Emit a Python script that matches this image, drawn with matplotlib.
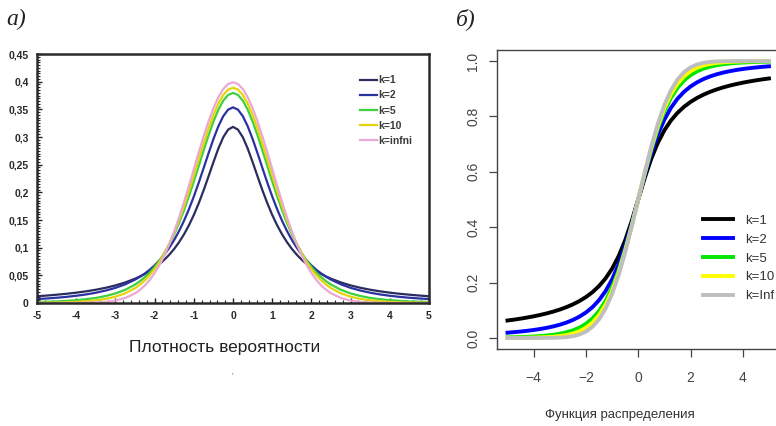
import matplotlib
matplotlib.use("Agg")
import matplotlib.pyplot as plt
from matplotlib.ticker import MultipleLocator, FixedLocator

# sample positions for panel a (denser around the peak)
pdf_x = [-5.0, -4.75, -4.5, -4.25, -4.0, -3.75, -3.5, -3.25, -3.0, -2.75,
         -2.5, -2.375, -2.25, -2.125, -2.0, -1.875, -1.75, -1.625, -1.5, -1.375,
         -1.25, -1.125, -1.0, -0.875, -0.75, -0.625, -0.5, -0.375, -0.25, -0.125,
         0.0,
         0.125, 0.25, 0.375, 0.5, 0.625, 0.75, 0.875, 1.0, 1.125, 1.25,
         1.375, 1.5, 1.625, 1.75, 1.875, 2.0, 2.125, 2.25, 2.375, 2.5,
         2.75, 3.0, 3.25, 3.5, 3.75, 4.0, 4.25, 4.5, 4.75, 5.0]

# panel a: probability density
pdf_k1 = [0.0122, 0.0135, 0.0150, 0.0167, 0.0187, 0.0211, 0.0240, 0.0275, 0.0318, 0.0372,
          0.0439, 0.0479, 0.0525, 0.0577, 0.0637, 0.0705, 0.0784, 0.0874, 0.0979, 0.1101,
          0.1242, 0.1405, 0.1592, 0.1803, 0.2037, 0.2289, 0.2546, 0.2791, 0.2996, 0.3134,
          0.3183,
          0.3134, 0.2996, 0.2791, 0.2546, 0.2289, 0.2037, 0.1803, 0.1592, 0.1405, 0.1242,
          0.1101, 0.0979, 0.0874, 0.0784, 0.0705, 0.0637, 0.0577, 0.0525, 0.0479, 0.0439,
          0.0372, 0.0318, 0.0275, 0.0240, 0.0211, 0.0187, 0.0167, 0.0150, 0.0135, 0.0122]
pdf_k2 = [0.0071, 0.0082, 0.0095, 0.0111, 0.0131, 0.0155, 0.0186, 0.0225, 0.0274, 0.0338,
          0.0422, 0.0474, 0.0533, 0.0601, 0.0680, 0.0772, 0.0878, 0.1000, 0.1141, 0.1303,
          0.1487, 0.1695, 0.1925, 0.2174, 0.2438, 0.2706, 0.2963, 0.3193, 0.3376, 0.3495,
          0.3536,
          0.3495, 0.3376, 0.3193, 0.2963, 0.2706, 0.2438, 0.2174, 0.1925, 0.1695, 0.1487,
          0.1303, 0.1141, 0.1000, 0.0878, 0.0772, 0.0680, 0.0601, 0.0533, 0.0474, 0.0422,
          0.0338, 0.0274, 0.0225, 0.0186, 0.0155, 0.0131, 0.0111, 0.0095, 0.0082, 0.0071]
pdf_k5 = [0.0018, 0.0023, 0.0029, 0.0039, 0.0051, 0.0069, 0.0092, 0.0126, 0.0173, 0.0239,
          0.0333, 0.0394, 0.0466, 0.0551, 0.0651, 0.0768, 0.0905, 0.1064, 0.1245, 0.1450,
          0.1679, 0.1929, 0.2197, 0.2476, 0.2757, 0.3029, 0.3279, 0.3493, 0.3657, 0.3761,
          0.3796,
          0.3761, 0.3657, 0.3493, 0.3279, 0.3029, 0.2757, 0.2476, 0.2197, 0.1929, 0.1679,
          0.1450, 0.1245, 0.1064, 0.0905, 0.0768, 0.0651, 0.0551, 0.0466, 0.0394, 0.0333,
          0.0239, 0.0173, 0.0126, 0.0092, 0.0069, 0.0051, 0.0039, 0.0029, 0.0023, 0.0018]
pdf_k10 = [0.0004, 0.0006, 0.0009, 0.0013, 0.0020, 0.0031, 0.0048, 0.0074, 0.0114, 0.0176,
           0.0269, 0.0332, 0.0409, 0.0501, 0.0612, 0.0742, 0.0895, 0.1072, 0.1274, 0.1501,
           0.1751, 0.2020, 0.2304, 0.2593, 0.2880, 0.3152, 0.3397, 0.3603, 0.3760, 0.3858,
           0.3891,
           0.3858, 0.3760, 0.3603, 0.3397, 0.3152, 0.2880, 0.2593, 0.2304, 0.2020, 0.1751,
           0.1501, 0.1274, 0.1072, 0.0895, 0.0742, 0.0612, 0.0501, 0.0409, 0.0332, 0.0269,
           0.0176, 0.0114, 0.0074, 0.0048, 0.0031, 0.0020, 0.0013, 0.0009, 0.0006, 0.0004]
pdf_inf = [0.0000, 0.0000, 0.0000, 0.0000, 0.0001, 0.0004, 0.0009, 0.0020, 0.0044, 0.0091,
           0.0175, 0.0238, 0.0317, 0.0417, 0.0540, 0.0688, 0.0863, 0.1065, 0.1295, 0.1550,
           0.1826, 0.2119, 0.2420, 0.2721, 0.3011, 0.3282, 0.3521, 0.3719, 0.3867, 0.3958,
           0.3989,
           0.3958, 0.3867, 0.3719, 0.3521, 0.3282, 0.3011, 0.2721, 0.2420, 0.2119, 0.1826,
           0.1550, 0.1295, 0.1065, 0.0863, 0.0688, 0.0540, 0.0417, 0.0317, 0.0238, 0.0175,
           0.0091, 0.0044, 0.0020, 0.0009, 0.0004, 0.0001, 0.0000, 0.0000, 0.0000, 0.0000]
pdf_labels = ["k=1", "k=2", "k=5", "k=10", "k=infni"]
pdf_colors = ["#2b2d5e", "#2c31a0", "#3fcf3f", "#e6d40a", "#e9a9d2"]

# sample positions for panel b
cdf_x = [-5.0, -4.75, -4.5, -4.25, -4.0, -3.75, -3.5, -3.25, -3.0, -2.75,
         -2.5, -2.25, -2.0, -1.75, -1.5, -1.25, -1.0, -0.75, -0.5, -0.25,
         0.0, 0.25, 0.5, 0.75, 1.0, 1.25, 1.5, 1.75, 2.0, 2.25,
         2.5, 2.75, 3.0, 3.25, 3.5, 3.75, 4.0, 4.25, 4.5, 4.75, 5.0]

# panel b: distribution function
cdf_k1 = [0.0628, 0.0660, 0.0696, 0.0736, 0.0780, 0.0830, 0.0886, 0.0950, 0.1024, 0.1110,
          0.1211, 0.1331, 0.1476, 0.1652, 0.1872, 0.2148, 0.2500, 0.2952, 0.3524, 0.4220,
          0.5000, 0.5780, 0.6476, 0.7048, 0.7500, 0.7852, 0.8128, 0.8348, 0.8524, 0.8669,
          0.8789, 0.8890, 0.8976, 0.9050, 0.9114, 0.9170, 0.9220, 0.9264, 0.9304, 0.9340, 0.9372]
cdf_k2 = [0.0189, 0.0208, 0.0230, 0.0256, 0.0286, 0.0322, 0.0364, 0.0415, 0.0477, 0.0553,
          0.0648, 0.0767, 0.0918, 0.1111, 0.1362, 0.1689, 0.2113, 0.2657, 0.3333, 0.4130,
          0.5000, 0.5870, 0.6667, 0.7343, 0.7887, 0.8311, 0.8638, 0.8889, 0.9082, 0.9233,
          0.9352, 0.9447, 0.9523, 0.9585, 0.9636, 0.9678, 0.9714, 0.9744, 0.9770, 0.9792, 0.9811]
cdf_k5 = [0.0021, 0.0025, 0.0032, 0.0041, 0.0052, 0.0066, 0.0086, 0.0113, 0.0150, 0.0202,
          0.0272, 0.0371, 0.0510, 0.0703, 0.0970, 0.1333, 0.1816, 0.2435, 0.3191, 0.4063,
          0.5000, 0.5937, 0.6809, 0.7565, 0.8184, 0.8667, 0.9030, 0.9297, 0.9490, 0.9629,
          0.9728, 0.9798, 0.9850, 0.9887, 0.9914, 0.9934, 0.9948, 0.9959, 0.9968, 0.9975, 0.9979]
cdf_k10 = [0.0003, 0.0004, 0.0006, 0.0008, 0.0013, 0.0019, 0.0029, 0.0044, 0.0067, 0.0102,
           0.0157, 0.0241, 0.0367, 0.0553, 0.0823, 0.1199, 0.1704, 0.2353, 0.3139, 0.4038,
           0.5000, 0.5962, 0.6861, 0.7647, 0.8296, 0.8801, 0.9177, 0.9447, 0.9633, 0.9759,
           0.9843, 0.9898, 0.9933, 0.9956, 0.9971, 0.9981, 0.9987, 0.9992, 0.9994, 0.9996, 0.9997]
cdf_inf = [0.0000, 0.0000, 0.0000, 0.0000, 0.0000, 0.0001, 0.0002, 0.0006, 0.0013, 0.0030,
           0.0062, 0.0122, 0.0228, 0.0401, 0.0668, 0.1056, 0.1587, 0.2266, 0.3085, 0.4013,
           0.5000, 0.5987, 0.6915, 0.7734, 0.8413, 0.8944, 0.9332, 0.9599, 0.9772, 0.9878,
           0.9938, 0.9970, 0.9987, 0.9994, 0.9998, 0.9999, 1.0000, 1.0000, 1.0000, 1.0000, 1.0000]
cdf_labels = ["k=1", "k=2", "k=5", "k=10", "k=Inf"]
cdf_colors = ["#000000", "#0000ff", "#00e600", "#ffff00", "#bebebe"]

pdf_yticks = [0, 0.05, 0.1, 0.15, 0.2, 0.25, 0.3, 0.35, 0.4, 0.45]
pdf_yticklabels = ["0", "0,05", "0,1", "0,15", "0,2", "0,25", "0,3", "0,35", "0,4", "0,45"]
pdf_xticks = [-5, -4, -3, -2, -1, 0, 1, 2, 3, 4, 5]
cdf_xticks = [-4, -2, 0, 2, 4]
cdf_yticks = [0.0, 0.2, 0.4, 0.6, 0.8, 1.0]

pdf_series = [pdf_k1, pdf_k2, pdf_k5, pdf_k10, pdf_inf]
cdf_series = [cdf_k1, cdf_k2, cdf_k5, cdf_k10, cdf_inf]
assert all(len(s) == len(pdf_x) for s in pdf_series)
assert all(len(s) == len(cdf_x) for s in cdf_series)

plt.rcParams["font.family"] = ["Liberation Sans", "DejaVu Sans"]

fig = plt.figure(figsize=(7.76, 4.26), dpi=100)

# ---- panel a ----
ax1 = fig.add_axes([0.0477, 0.2887, 0.5052, 0.5845])
for ys, lab, col in zip(pdf_series, pdf_labels, pdf_colors):
    ax1.plot(pdf_x, ys, color=col, lw=1.6, label=lab)
ax1.set_xlim(-5, 5)
ax1.set_ylim(0, 0.45)
ax1.yaxis.set_major_locator(FixedLocator(pdf_yticks))
ax1.set_yticklabels(pdf_yticklabels)
ax1.xaxis.set_major_locator(FixedLocator(pdf_xticks))
ax1.set_xticklabels([str(v) for v in pdf_xticks])
ax1.yaxis.set_minor_locator(MultipleLocator(0.005))
ax1.xaxis.set_minor_locator(MultipleLocator(0.2))
ax1.tick_params(which="both", direction="in", top=False, right=False, color="#222222")
ax1.tick_params(which="major", length=3.5, width=1.0, labelsize=7.5, pad=6, labelcolor="#2a2a2a")
ax1.tick_params(which="minor", length=2.5, width=0.8)
for lbl in ax1.get_xticklabels() + ax1.get_yticklabels():
    lbl.set_fontweight("bold")
for sp in ax1.spines.values():
    sp.set_linewidth(1.8)
    sp.set_color("#2a2a2a")
ax1.legend(loc="upper left", bbox_to_anchor=(0.824, 0.915), frameon=False,
           prop={"size": 7.5, "weight": "bold"},
           handlelength=1.65, handletextpad=0.1, labelspacing=0.5, borderaxespad=0,
           borderpad=0, labelcolor="#3a3a3a")

# ---- panel b ----
ax2 = fig.add_axes([0.6405, 0.1808, 0.3639, 0.7018])
for ys, lab, col in zip(cdf_series, cdf_labels, cdf_colors):
    ax2.plot(cdf_x, ys, color=col, lw=2.8, label=lab)
ax2.set_xlim(-5.4, 5.4)
ax2.set_ylim(-0.04, 1.04)
ax2.xaxis.set_major_locator(FixedLocator(cdf_xticks))
ax2.set_xticklabels(["\u2212" + str(-v) if v < 0 else str(v) for v in cdf_xticks])
ax2.yaxis.set_major_locator(FixedLocator(cdf_yticks))
ax2.set_yticklabels(["%.1f" % v for v in cdf_yticks], rotation=90, va="center")
ax2.tick_params(direction="out", length=6, width=0.9, color="#444444",
                labelsize=10, labelcolor="#444444")
ax2.tick_params(axis="x", pad=10)
ax2.tick_params(axis="y", pad=6)
for sp in ax2.spines.values():
    sp.set_linewidth(1.0)
    sp.set_color("#444444")
ax2.legend(loc="upper left", bbox_to_anchor=(0.729, 0.449), frameon=False, fontsize=9.5,
           handlelength=2.3, handletextpad=0.9, labelspacing=0.5, borderaxespad=0,
           borderpad=0, labelcolor="#333333")

# panel letters and captions
fig.text(0.008, 0.955, "а)", fontsize=17, style="italic", family="Liberation Serif",
         va="center", ha="left", color="#222222")
fig.text(0.588, 0.955, "б)", fontsize=17, style="italic", family="Liberation Serif",
         va="center", ha="left", color="#222222")
fig.text(0.290, 0.185, "Плотность вероятности", fontsize=12.5, ha="center", va="center",
         color="#222222")
fig.text(0.300, 0.118, "'", fontsize=6, ha="center", va="center", color="#555555")
fig.text(0.799, 0.026, "Функция распределения", fontsize=9.5, ha="center", va="center",
         color="#333333")

fig.savefig("out.png", dpi=100)
